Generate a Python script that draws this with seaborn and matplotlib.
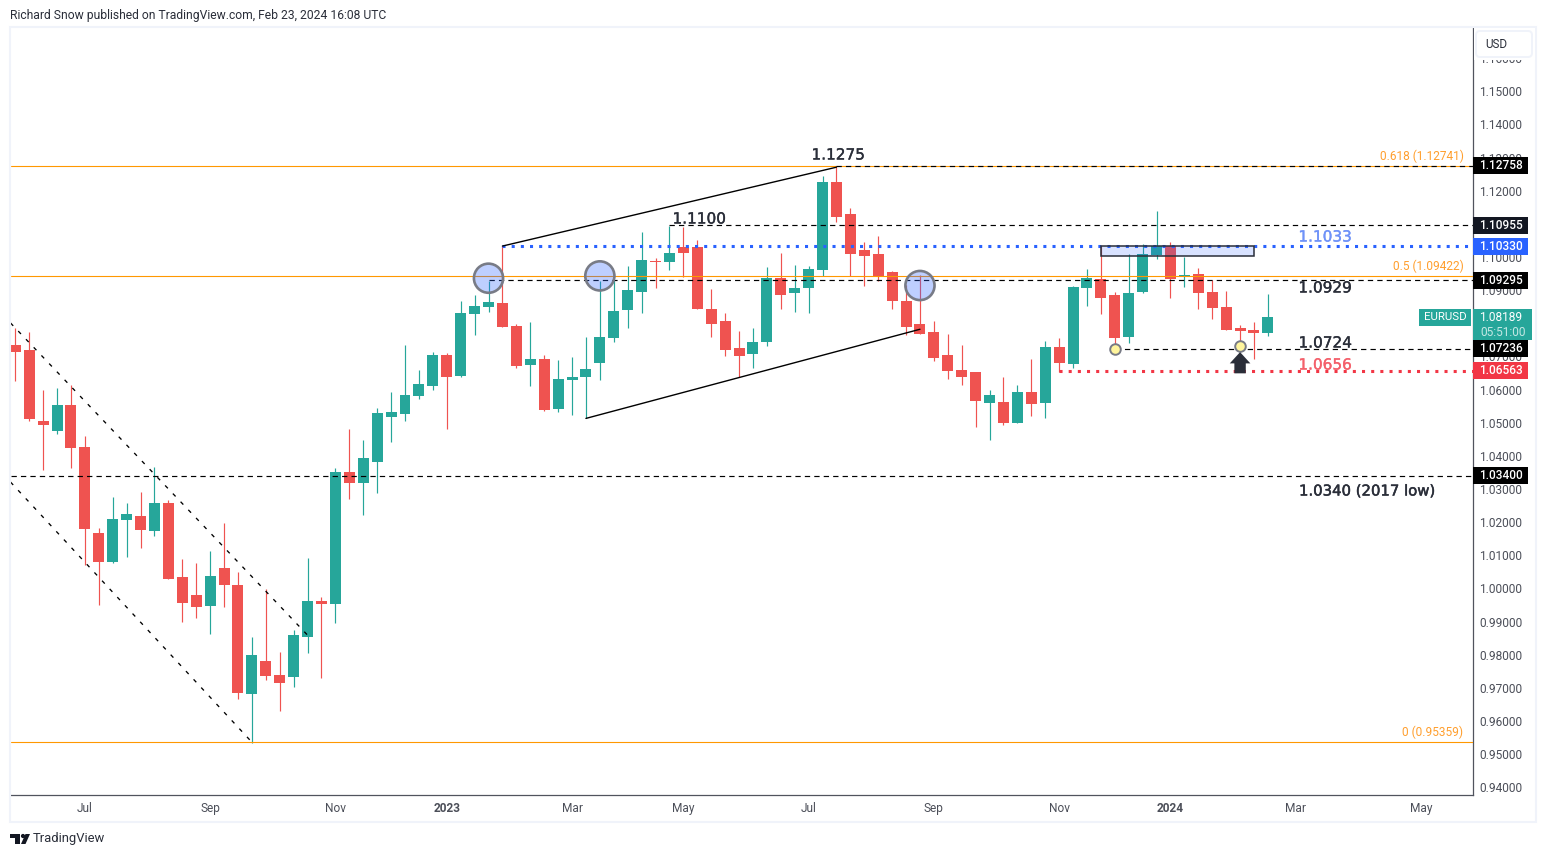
import matplotlib
matplotlib.use("Agg")
import matplotlib.pyplot as plt
import matplotlib.patheffects as pe
from matplotlib.patches import Rectangle, Polygon, FancyBboxPatch, Circle
from matplotlib.transforms import Affine2D
import seaborn as sns
import pandas as pd
import numpy as np

opens = [1.0734,1.0718,1.0504,1.0474,1.0553,1.0426,1.0166,1.0079,1.0206,1.0218,1.0172,1.0257,1.0034,0.9979,0.9946,1.0061,1.0009,0.9681,0.9780,0.9738,
         0.9732,0.9852,0.9961,0.9952,1.0350,1.0317,1.0381,1.0516,1.0525,1.0580,1.0610,1.0703,1.0640,1.0827,1.0848,1.0860,1.0791,1.0673,1.0691,1.0540,
         1.0628,1.0637,1.0679,1.0755,1.0839,1.0894,1.0987,1.0984,1.1029,1.1029,1.0842,1.0806,1.0725,1.0706,1.0743,1.0936,1.0890,1.0906,1.0960,1.1225,
         1.1129,1.1020,1.1008,1.0954,1.0866,1.0797,1.0773,1.0703,1.0658,1.0652,1.0559,1.0562,1.0498,1.0592,1.0559,1.0728,1.0676,1.0906,1.0933,1.0884,
         1.0758,1.0894,1.1005,1.1032,1.0939,1.0948,1.0894,1.0848,1.0785,1.0779,1.0770]
highs = [1.0785,1.0773,1.0598,1.0604,1.0613,1.0459,1.0181,1.0275,1.0257,1.0290,1.0365,1.0266,1.0088,1.0076,1.0112,1.0197,1.0049,0.9852,0.9997,0.9807,
         0.9874,1.0091,0.9973,1.0362,1.0480,1.0447,1.0543,1.0592,1.0734,1.0658,1.0712,1.0709,1.0866,1.0884,1.0927,1.1032,1.0797,1.0803,1.0703,1.0688,
         1.0697,1.0758,1.0927,1.0930,1.0972,1.1075,1.0996,1.1093,1.1090,1.1050,1.0903,1.0830,1.0776,1.0785,1.0969,1.1011,1.0975,1.0972,1.1243,1.1271,
         1.1147,1.1044,1.1062,1.0957,1.0915,1.0945,1.0806,1.0767,1.0734,1.0652,1.0598,1.0637,1.0613,1.0691,1.0746,1.0755,1.0912,1.0963,1.1032,1.0894,
         1.1008,1.1038,1.1138,1.1044,1.0999,1.0966,1.0930,1.0897,1.0794,1.0803,1.0887]
lows = [1.0625,1.0504,1.0356,1.0465,1.0362,1.0070,0.9949,1.0076,1.0094,1.0121,1.0157,1.0028,0.9898,0.9910,0.9862,0.9943,0.9665,0.9533,0.9723,0.9629,
        0.9702,0.9804,0.9729,0.9895,1.0269,1.0221,1.0287,1.0441,1.0504,1.0571,1.0598,1.0480,1.0637,1.0764,1.0833,1.0788,1.0664,1.0610,1.0534,1.0531,
        1.0522,1.0513,1.0628,1.0743,1.0785,1.0830,1.0906,1.0960,1.0939,1.0842,1.0758,1.0700,1.0637,1.0664,1.0731,1.0842,1.0833,1.0830,1.0942,1.1105,
        1.0942,1.0912,1.0927,1.0842,1.0764,1.0767,1.0685,1.0631,1.0613,1.0486,1.0447,1.0492,1.0498,1.0519,1.0513,1.0652,1.0664,1.0851,1.0827,1.0721,
        1.0740,1.0890,1.0993,1.0875,1.0909,1.0842,1.0812,1.0779,1.0718,1.0691,1.0761]
closes = [1.0712,1.0510,1.0492,1.0553,1.0423,1.0178,1.0079,1.0209,1.0224,1.0175,1.0257,1.0028,0.9955,0.9943,1.0037,1.0009,0.9684,0.9798,0.9735,0.9714,
          0.9859,0.9961,0.9952,1.0350,1.0317,1.0393,1.0528,1.0531,1.0583,1.0616,1.0703,1.0637,1.0830,1.0851,1.0863,1.0788,1.0670,1.0691,1.0537,1.0631,
          1.0637,1.0661,1.0758,1.0836,1.0900,1.0990,1.0984,1.1011,1.1011,1.0842,1.0797,1.0718,1.0700,1.0743,1.0936,1.0884,1.0906,1.0963,1.1225,1.1120,
          1.1008,1.1002,1.0939,1.0866,1.0788,1.0767,1.0694,1.0655,1.0637,1.0565,1.0583,1.0498,1.0592,1.0556,1.0728,1.0679,1.0909,1.0936,1.0875,1.0755,
          1.0890,1.1008,1.1032,1.0933,1.0945,1.0890,1.0845,1.0779,1.0776,1.0770,1.0818]

FIRST_WEEK = "2022-05-30"
month_ticks = ["2022-07","2022-09","2022-11","2023-01","2023-03","2023-05","2023-07","2023-09","2023-11","2024-01","2024-03","2024-05"]
month_labels = ["Jul","Sep","Nov","2023","Mar","May","Jul","Sep","Nov","2024","Mar","May"]
price_ticks = [0.94,0.95,0.96,0.97,0.98,0.99,1.00,1.01,1.02,1.03,1.04,1.05,1.06,1.07,1.08,1.09,1.10,1.11,1.12,1.13,1.14,1.15,1.16]

fib_levels = [1.12741, 1.09422, 0.95359]
fib_labels = ["0.618 (1.12741)", "0.5 (1.09422)", "0 (0.95359)"]

UP, DOWN = "#26a69a", "#ef5350"
DARK, BLUE, RED, ORANGE = "#2a2e39", "#2962ff", "#f23645", "#ff9800"
BORDER, AXIS, TICK = "#f0f3fa", "#50535e", "#4c4f59"

W, H = 1546, 857
sns.set_theme(style="white")
plt.rcParams["font.family"] = ["Roboto", "DejaVu Sans"]
fig = plt.figure(figsize=(W/100, H/100), dpi=100, facecolor="white")
ax = fig.add_axes([10.5/W, 1-795/H, 1462/W, 767/H])
px = Affine2D().scale(1/W, -1/H).translate(0, 1) + fig.transFigure

df = pd.DataFrame({"o": opens, "h": highs, "l": lows, "c": closes})
df["i"] = np.arange(len(df))
df["top"] = df[["o", "c"]].max(axis=1)
df["bot"] = df[["o", "c"]].min(axis=1)
df["size"] = df["top"] - df["bot"]
df["up"] = df["c"] >= df["o"]

ax.vlines(df.i[df.up], df.l[df.up], df.h[df.up], color=UP, lw=0.85, zorder=1)
ax.vlines(df.i[~df.up], df.l[~df.up], df.h[~df.up], color=DOWN, lw=0.85, zorder=1)
for mask, col in ((df.up, UP), (~df.up, DOWN)):
    sub = df[mask]
    sns.barplot(data=sub, x="i", y="size", bottom=sub["bot"].values, native_scale=True, color=col,
                saturation=1, width=0.79, linewidth=0, ax=ax, zorder=2, errorbar=None)

ax.set_xlim(-0.345, 104.7)
ax.set_ylim(0.93767, 1.16910)
ax.set_xlabel(""); ax.set_ylabel("")

weeks = pd.date_range(FIRST_WEEK, periods=115, freq="W-MON")
pos = [int(np.argmax(weeks.strftime("%Y-%m") == m)) for m in month_ticks]
ax.set_xticks(pos)
ax.set_xticklabels(month_labels, fontsize=8.6, color=TICK)
for t, l in zip(ax.get_xticklabels(), month_labels):
    if l.isdigit():
        t.set_fontweight("bold")
ax.yaxis.tick_right()
ax.set_yticks(price_ticks)
ax.set_yticklabels([f"{v:.5f}" for v in price_ticks], fontsize=8.6, color=TICK)
ax.tick_params(axis="y", length=0, pad=5)
ax.tick_params(axis="x", length=0, pad=5.2)
for s in ("top", "left"):
    ax.spines[s].set_visible(False)
for s in ("right", "bottom"):
    ax.spines[s].set_color(AXIS); ax.spines[s].set_linewidth(0.9)

# reference lines
XR = 104.7
for lv in fib_levels:
    ax.plot([-0.345, XR], [lv, lv], color=ORANGE, lw=0.8, zorder=3)
dash = (0, (4.5, 3.5))
for start, lv in ((59, 1.12758), (47, 1.10955), (34, 1.09295), (79, 1.07236), (-0.345, 1.03400)):
    ax.plot([start, XR], [lv, lv], color="black", lw=0.85, ls=dash, zorder=3)
ax.plot([35, XR], [1.1033, 1.1033], color=BLUE, lw=2.2, ls=(0, (1, 2)), zorder=3)
ax.plot([75, XR], [1.06563, 1.06563], color=RED, lw=2.2, ls=(0, (1, 2)), zorder=3)

# channels
chan = (0, (3, 5.5))
ax.plot([-0.345, 21], [1.0801, 0.9859], color="black", lw=0.95, ls=chan, zorder=3)
ax.plot([-0.345, 17], [1.0321, 0.9536], color="black", lw=0.95, ls=chan, zorder=3)
ax.plot([35, 59], [1.1033, 1.1271], color="black", lw=1.0, zorder=3)
ax.plot([41, 65], [1.0513, 1.0782], color="black", lw=1.0, zorder=3)

# markers
ax.scatter([34, 42, 65], [1.0936, 1.0943, 1.0914], s=440, color=BLUE, alpha=0.3, linewidths=0, zorder=4)
ax.scatter([34, 42, 65], [1.0936, 1.0943, 1.0914], s=440, facecolors="none", edgecolors="#787b86", linewidths=1.9, zorder=4)
ax.scatter([79, 88], [1.0723, 1.0730], s=58, facecolor="#fff59d", edgecolors="#787b86", linewidths=1.4, zorder=4)
ax.add_patch(Polygon([(88, 1.0713), (88.74, 1.0679), (88.41, 1.0679), (88.41, 1.0649),
                      (87.59, 1.0649), (87.59, 1.0679), (87.26, 1.0679)], closed=True, color=DARK, lw=0, zorder=5))
ax.add_patch(Rectangle((78, 1.1003), 11, 0.0031, facecolor=BLUE, alpha=0.18, lw=0, zorder=5))
ax.add_patch(Rectangle((78, 1.1003), 11, 0.0031, facecolor="none", edgecolor=DARK, lw=1.1, zorder=5))

# chart labels
def stroke(col, w=0.25):
    return [pe.withStroke(linewidth=w, foreground=col)]
lab = dict(fontsize=11, family=["DejaVu Sans"], va="center", transform=px, zorder=6)
fig.text(838, 155, "1.1275", ha="center", color=DARK, path_effects=stroke(DARK), **lab)
fig.text(699, 219, "1.1100", ha="center", color=DARK, path_effects=stroke(DARK), **lab)
fig.text(1325, 237, "1.1033", ha="center", color="#6f92f8", path_effects=stroke("#6f92f8"), **lab)
fig.text(1325, 288, "1.0929", ha="center", color=DARK, path_effects=stroke(DARK), **lab)
fig.text(1325, 343, "1.0724", ha="center", color=DARK, path_effects=stroke(DARK), **lab)
fig.text(1325, 365, "1.0656", ha="center", color="#f4606b", path_effects=stroke("#f4606b"), **lab)
fig.text(1299, 491, "1.0340 (2017 low)", ha="left", color=DARK, path_effects=stroke(DARK, 0.35), **{**lab, "fontsize": 10.7})
for lv, t in zip(fib_levels, fib_labels):
    ax_y = H - ax.transData.transform((0, lv))[1]
    fig.text(1463.5, ax_y - 10, t, ha="right", va="center", color="#ff9f2e", fontsize=8.6, transform=px, zorder=6)

# right-hand scale covers and badges
fig.add_artist(Rectangle((1474, 28), 61, 31.5, transform=px, facecolor="white", lw=0, zorder=7))
fig.add_artist(FancyBboxPatch((1476, 31), 56, 26, boxstyle="round,pad=0,rounding_size=4", transform=px,
                              facecolor="white", edgecolor=BORDER, lw=1.4, zorder=8))
fig.text(1485, 44.5, "USD", ha="left", va="center", color=DARK, fontsize=8.4, transform=px, zorder=9)

badges = [(1.12758, "#000000", 1528), (1.10955, "#131722", 1528), (1.10330, BLUE, 1528),
          (1.09295, "#000000", 1528), (1.07236, "#000000", 1528), (1.06563, RED, 1528), (1.03400, "#000000", 1528)]
for lv, col, xe in badges:
    yc = H - ax.transData.transform((0, lv))[1]
    fig.add_artist(Rectangle((1473, yc - 8.5), xe - 1473, 17, transform=px, facecolor=col, lw=0, zorder=8))
    fig.text(1501, yc, f"{lv:.5f}", ha="center", va="center", color="white", fontsize=8.6,
             fontweight="medium", transform=px, zorder=9)
fig.add_artist(Rectangle((1473, 309), 59, 31, transform=px, facecolor=UP, lw=0, zorder=8))
fig.text(1501, 317.5, "1.08189", ha="center", va="center", color="white", fontsize=8.6, transform=px, zorder=9)
fig.text(1503, 332, "05:51:00", ha="center", va="center", color="#c4e8e4", fontsize=8.6, transform=px, zorder=9)
fig.add_artist(Rectangle((1419, 309), 52, 17, transform=px, facecolor=UP, lw=0, zorder=8))
fig.text(1445, 317.5, "EURUSD", ha="center", va="center", color="white", fontsize=8.2, transform=px, zorder=9)

# outer frame, header and footer
fig.add_artist(Rectangle((9.5, 27), 1526, 795, transform=px, facecolor="none", edgecolor=BORDER, lw=1.5, zorder=6))
fig.text(10, 15, "Richard Snow published on TradingView.com, Feb 23, 2024 16:08 UTC", ha="left", va="center",
         color=DARK, fontsize=8.76, transform=px)
fig.text(33, 839, "TradingView", ha="left", va="center", color=DARK, fontsize=9.4, transform=px)
logo = "#131722"
fig.add_artist(Polygon([(10, 834), (20, 834), (20, 844), (15, 844), (15, 838.5), (10, 838.5)], transform=px, facecolor=logo, lw=0))
fig.add_artist(Circle((23, 836), 2.1, transform=px, facecolor=logo, lw=0))
fig.add_artist(Polygon([(25.5, 834), (30, 834), (25.5, 844), (21, 844)], transform=px, facecolor=logo, lw=0))

fig.savefig("out.png", dpi=100, facecolor="white")
